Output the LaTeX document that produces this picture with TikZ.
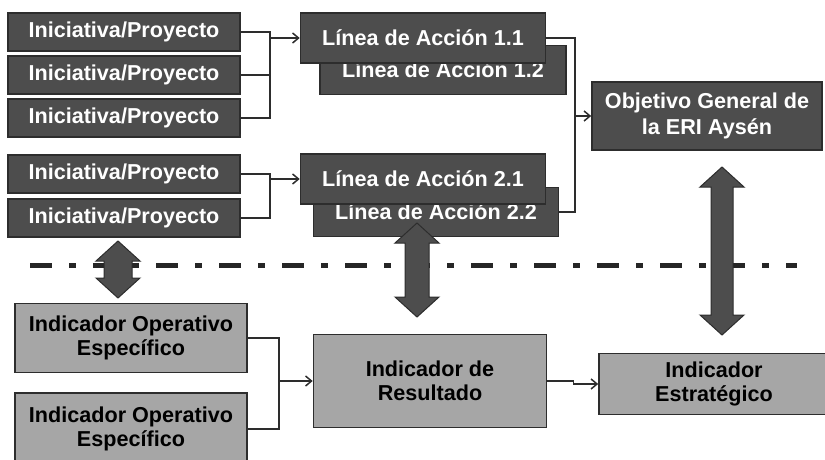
\documentclass[tikz,border=0pt]{standalone}
\usepackage{fontspec}
\setmainfont{Liberation Sans}
\usetikzlibrary{arrows.meta}
\definecolor{boxdark}{RGB}{77,77,77}
\definecolor{boxlight}{RGB}{166,166,166}
\definecolor{boxline}{RGB}{45,45,45}
% block double arrow: x, y of top tip, y of bottom tip, half width of shaft
\newcommand{\dblarrow}[4]{%
  \filldraw[blockarrow] (#1,#2) -- ++(22,20) -- (#1+#4,#2+20) -- (#1+#4,#3-20) -- (#1+22,#3-20)
    -- (#1,#3) -- ++(-22,-20) -- (#1-#4,#3-20) -- (#1-#4,#2+20) -- (#1-22,#2+20) -- cycle;}

\begin{document}
\begin{tikzpicture}[x=1pt, y=-1pt,
    darkbox/.style={draw=boxline, line width=1.6pt, fill=boxdark, text=white,
      font=\bfseries\fontsize{21.6}{24}\selectfont, inner sep=0pt, align=center},
    lightbox/.style={darkbox, fill=boxlight, text=black},
    link/.style={draw=boxline, line width=1.5pt},
    linkarrow/.style={link, -{Straight Barb[length=6pt,width=10pt]}},
    blockarrow/.style={fill=boxdark, draw=boxline, line width=1pt}]
      \clip (0,0) rectangle (825,460);

      \node[darkbox, minimum width=232, minimum height=38] (ini1) at (124,32) {Iniciativa/Proyecto};
      \node[darkbox, minimum width=232, minimum height=38] (ini2) at (124,75) {Iniciativa/Proyecto};
      \node[darkbox, minimum width=232, minimum height=38] (ini3) at (124,118) {Iniciativa/Proyecto};
      \node[darkbox, minimum width=232, minimum height=38] (ini4) at (124,174) {Iniciativa/Proyecto};
      \node[darkbox, minimum width=232, minimum height=38] (ini5) at (124,218) {Iniciativa/Proyecto};

      \node[darkbox, minimum width=246, minimum height=49] (la12) at (443,70) {L\'inea de Acci\'on 1.2};
      \node[darkbox, minimum width=245, minimum height=50] (la11) at (423,38) {L\'inea de Acci\'on 1.1};
      \node[darkbox, minimum width=245, minimum height=49] (la22) at (436,212) {L\'inea de Acci\'on 2.2};
      \node[darkbox, minimum width=245, minimum height=50] (la21) at (423,179) {L\'inea de Acci\'on 2.1};

      \node[darkbox, minimum width=230, minimum height=68,
        font=\bfseries\fontsize{21.6}{26}\selectfont] (obj) at (707,116) {Objetivo General de\\la ERI Ays\'en};

      \node[lightbox, minimum width=232, minimum height=69] (ioe1) at (131,338) {Indicador Operativo\\Espec\'ifico};
      \node[lightbox, minimum width=232, minimum height=72] (ioe2) at (131,429) {Indicador Operativo\\Espec\'ifico};
      \node[lightbox, minimum width=233, minimum height=93] (res) at (430,381) {Indicador de\\Resultado};
      \node[lightbox, minimum width=230, minimum height=61] (est) at (714,384) {Indicador\\Estrat\'egico};

      % joints of the connectors
      \coordinate (j1) at (270,38);
      \coordinate (j2) at (270,179);
      \coordinate (j3) at (575,116);
      \coordinate (j4) at (279,381);

      \draw[link] (ini1.east) -| (j1);
      \draw[link] (ini3.east) -| (j1);
      \draw[link] (ini2.east) -- (ini2.east -| j1);
      \draw[linkarrow] (j1) -- (la11.west);

      \draw[link] (ini4.east) -| (j2);
      \draw[link] (ini5.east) -| (j2);
      \draw[linkarrow] (j2) -- (la21.west);

      \draw[link] (la11.east) -| (j3);
      \draw[link] (la22.east) -| (j3);
      \draw[linkarrow] (j3) -- (obj.west);

      \draw[link] (ioe1.east) -| (j4);
      \draw[link] (ioe2.east) -| (j4);
      \draw[linkarrow] (j4) -- (res.west);

      \draw[linkarrow] (res.east) -- ++(26,0) |- (est.west);

      % border between the two levels
      \draw[line width=5pt, color=black!85, dash pattern=on 22pt off 17pt on 7pt off 17pt] (30,265) -- (797,265);

      \dblarrow{118}{241}{298}{14}
      \dblarrow{417}{223}{317}{12}
      \dblarrow{722}{167}{335}{11}
    \end{tikzpicture}
\end{document}
